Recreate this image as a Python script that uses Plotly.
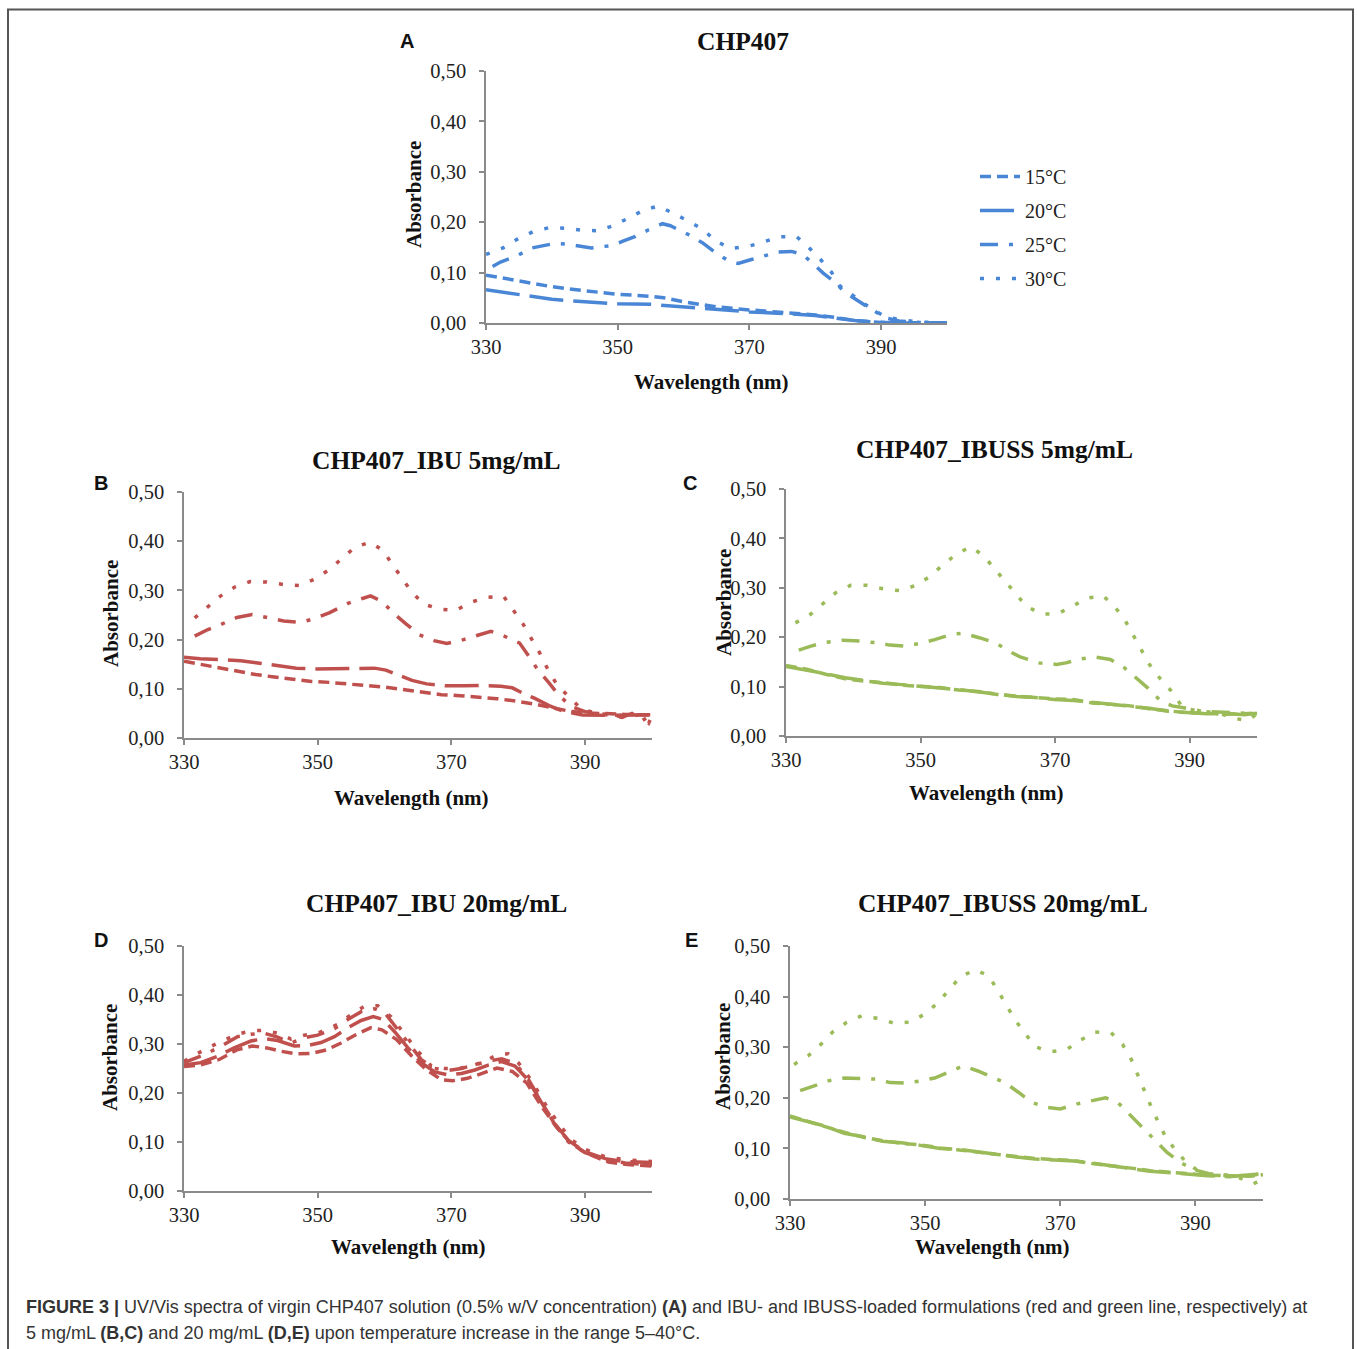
import plotly.graph_objects as go

W, H = 1357, 1349

# ---------------- DATA ----------------
TEMPS = ["15°C", "20°C", "25°C", "30°C"]
X_TICKS = [330, 350, 370, 390]
Y_TICKS = [0.0, 0.1, 0.2, 0.3, 0.4, 0.5]

# Panel A: CHP407
A15_x = [330, 335, 340, 345, 350, 355, 357, 360, 365, 370, 375, 380, 383, 386, 390, 395, 400]
A15_y = [0.095, 0.083, 0.072, 0.064, 0.057, 0.053, 0.050, 0.042, 0.032, 0.026, 0.021, 0.016, 0.011, 0.005, 0.001, 0.0, 0.0]
A20_x = [330, 335, 340, 345, 350, 355, 358, 362, 366, 370, 375, 380, 383, 386, 389, 392, 400]
A20_y = [0.066, 0.056, 0.047, 0.042, 0.038, 0.037, 0.034, 0.030, 0.026, 0.022, 0.019, 0.015, 0.010, 0.005, 0.002, 0.0, 0.0]
A25_x = [331, 332.2, 334.5, 337, 340.5, 342.5, 346, 349.3, 350.7, 352.7, 354.7, 356.8, 358, 360.8, 362.9, 364.9, 366.9, 368.3, 370.3, 372.4, 374.4, 376.4, 378.1, 379.8, 381.2, 382.5, 384.6, 386.6, 388.6, 390.7, 392.7, 396, 400]
A25_y = [0.112, 0.121, 0.132, 0.149, 0.158, 0.156, 0.149, 0.154, 0.162, 0.172, 0.185, 0.197, 0.193, 0.175, 0.159, 0.139, 0.123, 0.118, 0.126, 0.134, 0.141, 0.142, 0.136, 0.116, 0.099, 0.086, 0.060, 0.043, 0.026, 0.010, 0.004, 0.001, 0.0]
A30_x = [330, 332.6, 334.7, 337.1, 339.5, 342.1, 344.6, 347.1, 349.5, 351.8, 354.1, 356.2, 358.5, 360.8, 363.1, 364.9, 367.3, 369.8, 372.2, 374.5, 377.1, 379, 380.8, 382.5, 383.6, 385.9, 388, 390.5, 393, 396, 400]
A30_y = [0.136, 0.149, 0.166, 0.181, 0.189, 0.188, 0.184, 0.183, 0.194, 0.210, 0.225, 0.232, 0.217, 0.202, 0.184, 0.162, 0.148, 0.152, 0.161, 0.171, 0.172, 0.150, 0.126, 0.100, 0.075, 0.053, 0.033, 0.013, 0.006, 0.002, 0.0]

# Panel B: CHP407_IBU 5mg/mL
B15_x = [330, 332.4, 335.2, 337.9, 340.7, 343.5, 346.3, 349.1, 351.8, 354.6, 357.4, 360.2, 363, 365.7, 368.5, 371.3, 374.1, 376.8, 379.6, 382.4, 385.2, 387.9, 390.2, 393, 396, 400]
B15_y = [0.156, 0.150, 0.142, 0.136, 0.129, 0.124, 0.119, 0.115, 0.113, 0.110, 0.107, 0.103, 0.098, 0.093, 0.088, 0.086, 0.083, 0.080, 0.075, 0.069, 0.061, 0.054, 0.051, 0.049, 0.048, 0.047]
B20_x = [330, 332.4, 335.7, 338.5, 341.3, 344.1, 346.8, 349.6, 352.4, 355.7, 358.5, 360.2, 361.8, 364.1, 366.3, 369.1, 371.8, 374.6, 377.4, 379.1, 380.7, 382.4, 384.6, 386.8, 389.6, 393, 396, 400]
B20_y = [0.164, 0.161, 0.159, 0.157, 0.152, 0.146, 0.142, 0.140, 0.141, 0.142, 0.142, 0.138, 0.129, 0.117, 0.110, 0.106, 0.106, 0.107, 0.105, 0.102, 0.091, 0.081, 0.066, 0.054, 0.047, 0.046, 0.047, 0.047]
B25_x = [331.6, 333.5, 335.4, 337.9, 340.2, 342.9, 344.9, 347.4, 349.6, 351.8, 354.6, 356.8, 357.9, 359.6, 361.3, 363.2, 365.2, 367.4, 369.3, 371.8, 374.1, 375.9, 377.9, 380.2, 381.6, 382.9, 384.6, 386, 387.9, 389.9, 392, 394, 395.5, 397, 398.5, 400]
B25_y = [0.207, 0.220, 0.230, 0.245, 0.251, 0.244, 0.238, 0.235, 0.243, 0.255, 0.274, 0.284, 0.289, 0.278, 0.254, 0.232, 0.210, 0.198, 0.192, 0.200, 0.210, 0.217, 0.207, 0.193, 0.166, 0.139, 0.112, 0.088, 0.064, 0.054, 0.049, 0.048, 0.042, 0.050, 0.035, 0.048]
B30_x = [331.6, 333.5, 335.4, 337.6, 339.9, 342.4, 344.9, 347.4, 349.7, 351.7, 353.7, 355.6, 357.8, 359.8, 361.2, 362.6, 364.1, 365.9, 368.2, 370.6, 372.9, 375.3, 377.8, 379.3, 380.7, 382, 383.2, 384.4, 385.8, 387.4, 389.5, 392, 394, 396, 398, 399.5, 400]
B30_y = [0.244, 0.266, 0.288, 0.307, 0.318, 0.317, 0.312, 0.310, 0.324, 0.342, 0.366, 0.388, 0.398, 0.381, 0.352, 0.325, 0.296, 0.272, 0.262, 0.259, 0.276, 0.286, 0.288, 0.259, 0.232, 0.201, 0.173, 0.140, 0.108, 0.086, 0.058, 0.050, 0.045, 0.042, 0.047, 0.030, 0.045]

# Panel C: CHP407_IBUSS 5mg/mL
C15_x = [330, 333.1, 335.9, 338.8, 341.6, 344.4, 347.3, 350.1, 352.9, 355.7, 358.6, 361.4, 364.2, 367, 369.9, 372.7, 375.5, 378.4, 381.2, 384, 386.8, 389.6, 392.5, 395.3, 398.1, 400]
C15_y = [0.143, 0.135, 0.125, 0.116, 0.111, 0.108, 0.103, 0.101, 0.098, 0.093, 0.090, 0.084, 0.081, 0.077, 0.075, 0.074, 0.067, 0.064, 0.061, 0.055, 0.051, 0.047, 0.046, 0.044, 0.045, 0.047]
C20_x = [330, 333.1, 335.9, 338.8, 341.6, 344.4, 347.3, 350.1, 352.9, 355.7, 358.6, 361.4, 364.2, 367, 369.9, 372.7, 375.5, 378.4, 381.2, 384, 386.8, 389.6, 392.5, 395.3, 398.1, 400]
C20_y = [0.141, 0.134, 0.126, 0.118, 0.112, 0.107, 0.104, 0.100, 0.097, 0.094, 0.089, 0.085, 0.080, 0.078, 0.074, 0.072, 0.068, 0.065, 0.060, 0.056, 0.050, 0.048, 0.045, 0.046, 0.043, 0.046]
C25_x = [331.9, 333.7, 335.7, 338.5, 341, 343.3, 345.4, 347.8, 349.8, 352.1, 354.6, 356.3, 358.7, 361.1, 363.1, 364.8, 367.6, 370.2, 371.6, 373.8, 375.8, 378.2, 380.3, 381.8, 383.7, 385.7, 387.4, 389.1, 392, 395, 398, 400]
C25_y = [0.174, 0.182, 0.189, 0.194, 0.192, 0.189, 0.184, 0.182, 0.187, 0.195, 0.206, 0.208, 0.199, 0.189, 0.172, 0.160, 0.148, 0.145, 0.148, 0.156, 0.160, 0.155, 0.138, 0.121, 0.098, 0.071, 0.061, 0.057, 0.050, 0.048, 0.046, 0.045]
C30_x = [331.4, 333.6, 335.5, 337.4, 339.6, 342, 344.4, 347, 349.3, 351.4, 353.2, 355.2, 357.4, 359.3, 360.9, 362.5, 364.1, 365.7, 367.9, 370.3, 372.5, 374.7, 377.1, 378.9, 380.4, 381.6, 382.8, 384, 385.5, 387.2, 389, 391.5, 394, 396.5, 398.6, 400]
C30_y = [0.229, 0.246, 0.268, 0.290, 0.305, 0.305, 0.298, 0.294, 0.305, 0.323, 0.345, 0.367, 0.383, 0.366, 0.340, 0.315, 0.288, 0.263, 0.247, 0.247, 0.262, 0.279, 0.284, 0.261, 0.234, 0.205, 0.175, 0.145, 0.118, 0.092, 0.057, 0.050, 0.048, 0.036, 0.031, 0.045]

# Panel D: CHP407_IBU 20mg/mL
D15_x = [330, 332.4, 335.2, 337.9, 340.2, 342.4, 344.6, 346.8, 349.1, 351.3, 353.5, 355.7, 357.9, 359.6, 361.8, 364.1, 366.3, 368.5, 370.2, 372.4, 374.6, 376.8, 379.1, 381.3, 383.5, 385.7, 387.9, 390.2, 393.5, 396.3, 400]
D15_y = [0.254, 0.257, 0.268, 0.288, 0.296, 0.292, 0.285, 0.280, 0.281, 0.288, 0.302, 0.319, 0.333, 0.329, 0.309, 0.275, 0.247, 0.227, 0.225, 0.230, 0.240, 0.251, 0.244, 0.220, 0.172, 0.131, 0.097, 0.077, 0.059, 0.054, 0.051]
D20_x = [330, 332.5, 335, 337.5, 340, 342, 344, 346.5, 348.5, 350.5, 352.5, 354.5, 356.5, 358.3, 359.8, 361.5, 363.5, 365.5, 367.5, 369.5, 371.5, 373.5, 375.5, 377.5, 379.5, 381.5, 383.5, 385.5, 387.5, 390, 393, 396, 400]
D20_y = [0.257, 0.262, 0.275, 0.292, 0.306, 0.311, 0.307, 0.296, 0.297, 0.303, 0.315, 0.333, 0.348, 0.356, 0.350, 0.325, 0.292, 0.262, 0.243, 0.237, 0.240, 0.247, 0.257, 0.264, 0.255, 0.226, 0.180, 0.137, 0.103, 0.080, 0.066, 0.060, 0.058]
D25_x = [330, 333, 335.5, 338, 340, 342, 344, 346, 348, 350, 352.5, 354.5, 356.5, 358.5, 360, 361.5, 363.5, 365.5, 367.5, 369.5, 371.5, 373.5, 375.5, 377.5, 379.5, 381.5, 383.5, 385.5, 387.5, 390, 393, 396, 400]
D25_y = [0.262, 0.278, 0.295, 0.315, 0.320, 0.322, 0.314, 0.302, 0.313, 0.318, 0.331, 0.350, 0.366, 0.372, 0.364, 0.338, 0.302, 0.268, 0.250, 0.246, 0.250, 0.258, 0.265, 0.270, 0.261, 0.228, 0.180, 0.135, 0.100, 0.078, 0.064, 0.057, 0.053]
D30_x = [330, 333, 336, 338, 340, 342, 344, 346, 348, 350, 353, 355, 357, 359, 361, 363, 365, 367, 369, 371, 373, 375, 377, 378.5, 380, 382, 384, 386, 388, 390, 393, 396, 400]
D30_y = [0.265, 0.288, 0.308, 0.320, 0.327, 0.328, 0.322, 0.310, 0.318, 0.322, 0.340, 0.360, 0.377, 0.378, 0.355, 0.320, 0.285, 0.255, 0.250, 0.250, 0.255, 0.265, 0.279, 0.280, 0.262, 0.225, 0.178, 0.138, 0.104, 0.085, 0.070, 0.064, 0.060]

# Panel E: CHP407_IBUSS 20mg/mL
E15_x = [330, 332.4, 335.2, 338, 340.9, 343.7, 346.5, 349.3, 352.2, 355, 357.8, 360.7, 363.5, 366.3, 369.1, 372, 374.8, 377.6, 380.5, 383.3, 386.1, 388.9, 391.8, 395, 398, 400]
E15_y = [0.164, 0.155, 0.143, 0.132, 0.122, 0.115, 0.110, 0.107, 0.101, 0.097, 0.092, 0.088, 0.084, 0.080, 0.078, 0.076, 0.070, 0.066, 0.061, 0.056, 0.053, 0.049, 0.047, 0.046, 0.045, 0.048]
E20_x = [330, 332.4, 335.2, 338, 340.9, 343.7, 346.5, 349.3, 352.2, 355, 357.8, 360.7, 363.5, 366.3, 369.1, 372, 374.8, 377.6, 380.5, 383.3, 386.1, 388.9, 391.8, 395, 398, 400]
E20_y = [0.162, 0.154, 0.144, 0.130, 0.123, 0.114, 0.111, 0.106, 0.100, 0.098, 0.093, 0.087, 0.083, 0.079, 0.077, 0.075, 0.071, 0.065, 0.060, 0.055, 0.052, 0.048, 0.046, 0.044, 0.048, 0.050]
E25_x = [331.5, 333.5, 335.8, 338, 340.9, 342.8, 344.8, 347.1, 349.1, 351.4, 353.9, 355.6, 357.8, 360.1, 361.8, 363.8, 365.7, 368, 370, 372.5, 374.5, 376.7, 378.5, 380.2, 381.9, 383.8, 385.8, 387.8, 389.8, 392, 395, 398, 400]
E25_y = [0.214, 0.224, 0.234, 0.239, 0.238, 0.237, 0.230, 0.229, 0.233, 0.239, 0.253, 0.263, 0.253, 0.240, 0.230, 0.211, 0.191, 0.181, 0.178, 0.188, 0.194, 0.200, 0.191, 0.168, 0.145, 0.118, 0.092, 0.072, 0.058, 0.050, 0.047, 0.046, 0.050]
E30_x = [330.6, 332.7, 334.6, 336.3, 338.4, 340.6, 343, 345.5, 347.9, 350, 351.9, 353.5, 355.2, 357.4, 359.4, 360.8, 362, 363.3, 364.8, 366.3, 368.5, 370.9, 373, 375.1, 377.5, 379.2, 380.5, 381.4, 382.4, 383.4, 384.4, 385.5, 387, 388.7, 391, 393.5, 396, 398.6, 400]
E30_y = [0.266, 0.283, 0.306, 0.330, 0.349, 0.362, 0.357, 0.347, 0.350, 0.366, 0.388, 0.414, 0.439, 0.453, 0.441, 0.411, 0.383, 0.354, 0.327, 0.301, 0.291, 0.295, 0.314, 0.330, 0.329, 0.306, 0.276, 0.247, 0.216, 0.184, 0.155, 0.125, 0.097, 0.072, 0.050, 0.047, 0.045, 0.030, 0.040]

PANEL_TITLES = {"A": "CHP407", "B": "CHP407_IBU 5mg/mL", "C": "CHP407_IBUSS 5mg/mL",
                "D": "CHP407_IBU 20mg/mL", "E": "CHP407_IBUSS 20mg/mL"}
X_TITLE = "Wavelength (nm)"
Y_TITLE = "Absorbance"
CAPTION_1 = ("<b>FIGURE 3 |</b> UV/Vis spectra of virgin CHP407 solution (0.5% w/V concentration) "
             "<b>(A)</b> and IBU- and IBUSS-loaded formulations (red and green line, respectively) at")
CAPTION_2 = ("5 mg/mL <b>(B,C)</b> and 20 mg/mL <b>(D,E)</b> upon temperature increase in the range 5–40°C.")

SERIES = {
    "A": [(A15_x, A15_y), (A20_x, A20_y), (A25_x, A25_y), (A30_x, A30_y)],
    "B": [(B15_x, B15_y), (B20_x, B20_y), (B25_x, B25_y), (B30_x, B30_y)],
    "C": [(C15_x, C15_y), (C20_x, C20_y), (C25_x, C25_y), (C30_x, C30_y)],
    "D": [(D15_x, D15_y), (D20_x, D20_y), (D25_x, D25_y), (D30_x, D30_y)],
    "E": [(E15_x, E15_y), (E20_x, E20_y), (E25_x, E25_y), (E30_x, E30_y)],
}

# ---------------- STYLE / LAYOUT ----------------
COLORS = {"A": "#4a86d6", "B": "#c0504d", "C": "#9bbb59", "D": "#c0504d", "E": "#9bbb59"}
DASHES = ["11px,6px", "34px,10px", "18px,11px,4px,11px", "4px,12px"]
LW = 3.5

# plot areas in pixels: (left, right, top, bottom)
BOXES = {"A": (486, 947, 71, 323), "B": (184, 652, 492, 738), "C": (786, 1257, 489, 736),
         "D": (184, 652, 946, 1191), "E": (790, 1263, 946, 1199)}
TITLE_POS = {"A": (743, 41), "B": (437, 460), "C": (995, 449), "D": (437, 903), "E": (1003, 903)}
LETTER_POS = {"A": (407, 41), "B": (101, 483), "C": (690, 483), "D": (101, 940), "E": (691, 940)}
YT_POS = {"A": (414, 195), "B": (111, 613), "C": (724, 603), "D": (110, 1057), "E": (723, 1057)}
XT_POS = {"A": (711, 382), "B": (411, 798), "C": (987, 793), "D": (408, 1247), "E": (993, 1247)}

SERIF = "Liberation Serif, Times New Roman, serif"
SANS = "Liberation Sans, Arial, sans-serif"

def fx(p):
    return p / W

def fy(p):
    return 1 - p / H

fig = go.Figure()
layout = dict(width=W, height=H, margin=dict(l=0, r=0, t=0, b=0, pad=0, autoexpand=False),
              paper_bgcolor="white", plot_bgcolor="white", separators=",.",
              showlegend=True)
annotations = []

for i, key in enumerate(["A", "B", "C", "D", "E"]):
    n = "" if i == 0 else str(i + 1)
    l, r, t, b = BOXES[key]
    axcommon = dict(showgrid=False, zeroline=False, showline=True, linecolor="#8a8a8a", linewidth=1.5,
                    ticks="outside", ticklen=5, tickwidth=1.5, tickcolor="#8a8a8a",
                    tickfont=dict(family=SERIF, size=20.5, color="#222"), fixedrange=True, automargin=False)
    layout["xaxis" + n] = dict(axcommon, domain=[fx(l), fx(r)], range=[330, 400],
                               tickvals=X_TICKS, anchor="y" + n, ticklabelstandoff=0)
    layout["yaxis" + n] = dict(axcommon, domain=[fy(b), fy(t)], range=[0, 0.5],
                               tickvals=Y_TICKS, tickformat=".2f", anchor="x" + n, ticklabelstandoff=9)
    for j, (xs, ys) in enumerate(SERIES[key]):
        fig.add_trace(go.Scatter(x=xs, y=ys, mode="lines", name=TEMPS[j],
                                 xaxis="x" + n, yaxis="y" + n,
                                 line=dict(color=COLORS[key], width=LW, dash=DASHES[j]),
                                 showlegend=(key == "A"), legendgroup=TEMPS[j]))
    tx, ty = TITLE_POS[key]
    annotations.append(dict(text="<b>" + PANEL_TITLES[key] + "</b>", x=fx(tx), y=fy(ty), xref="paper", yref="paper",
                            showarrow=False, xanchor="center", yanchor="middle",
                            font=dict(family=SERIF, size=25.5, color="#111")))
    lx, ly = LETTER_POS[key]
    annotations.append(dict(text="<b>" + key + "</b>", x=fx(lx), y=fy(ly), xref="paper", yref="paper",
                            showarrow=False, xanchor="center", yanchor="middle",
                            font=dict(family=SANS, size=20, color="#111")))
    ax_, ay_ = YT_POS[key]
    annotations.append(dict(text="<b>" + Y_TITLE + "</b>", x=fx(ax_), y=fy(ay_), xref="paper", yref="paper",
                            showarrow=False, xanchor="center", yanchor="middle", textangle=-90,
                            font=dict(family=SERIF, size=21, color="#111")))
    bx, by = XT_POS[key]
    annotations.append(dict(text="<b>" + X_TITLE + "</b>", x=fx(bx), y=fy(by), xref="paper", yref="paper",
                            showarrow=False, xanchor="center", yanchor="middle",
                            font=dict(family=SERIF, size=21, color="#111")))

annotations.append(dict(text=CAPTION_1, x=fx(24), y=fy(1307), xref="paper", yref="paper", showarrow=False,
                        xanchor="left", yanchor="middle", font=dict(family=SANS, size=18, color="#333")))
annotations.append(dict(text=CAPTION_2, x=fx(24), y=fy(1333), xref="paper", yref="paper", showarrow=False,
                        xanchor="left", yanchor="middle", font=dict(family=SANS, size=18, color="#333")))

layout["annotations"] = annotations
layout["legend"] = dict(x=fx(975), y=fy(157), xanchor="left", yanchor="top", bgcolor="rgba(0,0,0,0)",
                        font=dict(family=SERIF, size=20, color="#222"), tracegroupgap=5,
                        itemwidth=40, traceorder="grouped")
layout["shapes"] = [dict(type="rect", xref="paper", yref="paper", x0=fx(8), x1=fx(1353), y0=-0.02, y1=fy(9.5),
                         line=dict(color="#555", width=2), fillcolor="rgba(0,0,0,0)")]
fig.update_layout(**layout)

POST = """
document.body.style.margin='0';
document.body.style.overflow='hidden';
document.documentElement.style.overflow='hidden';
"""
fig.write_html("out.html", post_script=POST, config={"displayModeBar": False})
